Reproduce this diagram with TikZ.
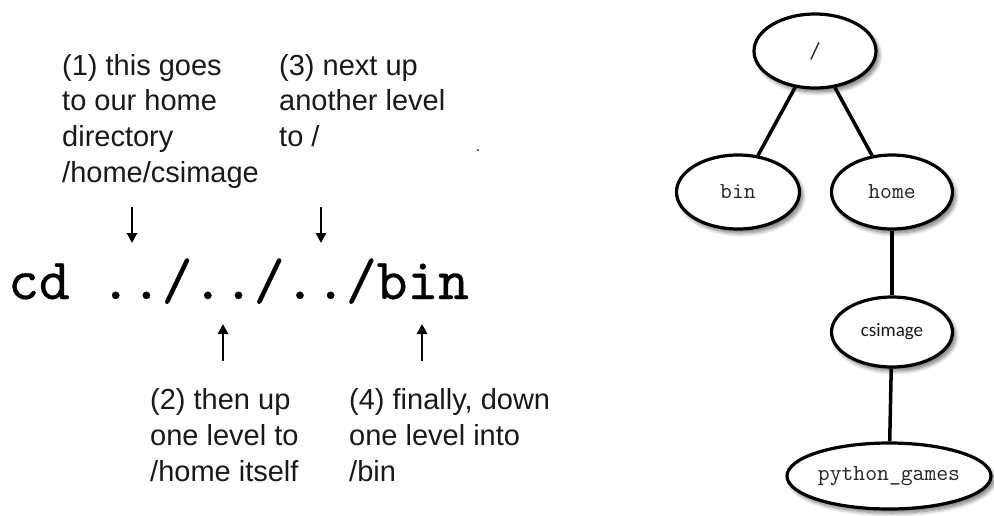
\documentclass[tikz,border=0pt]{standalone}
\usepackage{fontspec}
\setmainfont{Liberation Sans}
\newfontfamily\calfam{Carlito}
\newfontfamily\cmdfont[FakeBold=0.5]{lmmono10-regular.otf}
\usetikzlibrary{shapes.geometric,arrows.meta,shadows.blur}
\begin{document}
\begin{tikzpicture}[x=1pt,y=-1pt,
  lbl/.style={anchor=base west,inner sep=0,text=black!90,font=\fontsize{29}{35}\selectfont},
  dir/.style={ellipse,draw,line width=3.2pt,fill=white,inner sep=0,
    blur shadow={shadow xshift=3pt,shadow yshift=-4pt,shadow blur steps=8,shadow blur radius=4pt,shadow opacity=55}},
  tt/.style={font=\ttfamily\fontsize{23}{23}\selectfont,text=black!85},
  edge/.style={line width=3.5pt},
  ptr/.style={line width=2.8pt,-{Triangle[length=10pt,width=10pt]}}]
\useasboundingbox (0,0) rectangle (994,515);
% upper notes
\node[lbl] (a1) at (62,75) {(1) this goes};
\node[lbl] (a2) at (62,110) {to our home};
\node[lbl] (a3) at (62,146) {directory};
\node[lbl] (a4) at (62,182) {/home/csimage};
\node[lbl] (c1) at (279,75) {(3) next up};
\node[lbl] (c2) at (279,110) {another level};
\node[lbl] (c3) at (279,146) {to /};
\fill (478,150) circle (1);
% command
\node[anchor=base west,inner sep=0,font=\cmdfont\fontsize{58.5}{58.5}\selectfont] (cmd) at (8,299) {cd ../../../bin};
% arrows
\coordinate (d1s) at (132,207); \coordinate (d1e) at (132,243);
\coordinate (d3s) at (321,207); \coordinate (d3e) at (321,243);
\coordinate (u2s) at (223,361); \coordinate (u2e) at (223,324);
\coordinate (u4s) at (422,361); \coordinate (u4e) at (422,324);
\draw[ptr] (d1s) -- (d1e);
\draw[ptr] (d3s) -- (d3e);
\draw[ptr] (u2s) -- (u2e);
\draw[ptr] (u4s) -- (u4e);
% lower notes
\node[lbl] (b1) at (150,409) {(2) then up};
\node[lbl] (b2) at (150,445) {one level to};
\node[lbl] (b3) at (150,481) {/home itself};
\node[lbl] (e1) at (349,409) {(4) finally, down};
\node[lbl] (e2) at (349,445) {one level into};
\node[lbl] (e3) at (349,481) {/bin};
% tree
\node[dir,minimum width=122pt,minimum height=74pt,tt] (root) at (815,51) {/};
\node[dir,minimum width=123pt,minimum height=74pt,tt] (bin) at (738,192) {bin};
\node[dir,minimum width=121pt,minimum height=74pt,tt] (home) at (892,192) {home};
\node[dir,minimum width=121pt,minimum height=70pt,text=black!90,font=\calfam\fontsize{19}{19}\selectfont] (cs) at (892,332) {csimage};
\node[dir,minimum width=204pt,minimum height=66pt,tt] (py) at (889,476) {python\_games};
\draw[edge] (root) -- (bin);
\draw[edge] (root) -- (home);
\draw[edge] (home) -- (cs);
\draw[edge] (cs) -- (py);
\end{tikzpicture}
\end{document}
